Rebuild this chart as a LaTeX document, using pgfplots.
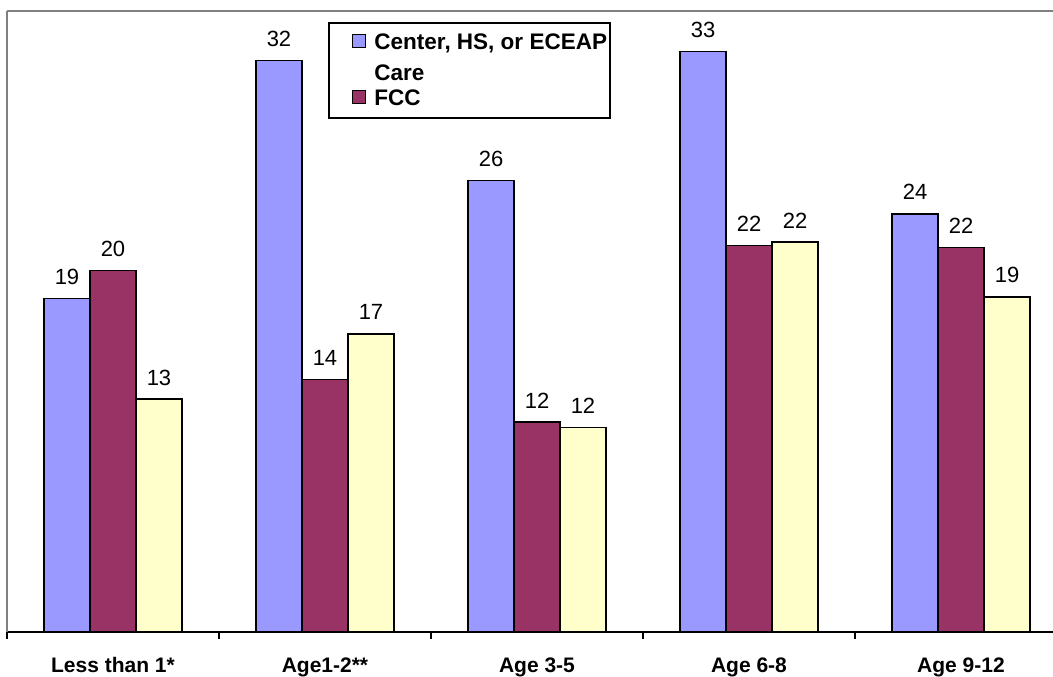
\documentclass[border=0pt]{standalone}
\usepackage{fontspec}
\setmainfont{Liberation Sans}
\usepackage{pgfplots}
\pgfplotsset{compat=1.18}

\definecolor{barblue}{HTML}{9999FF}
\definecolor{barplum}{HTML}{993366}
\definecolor{baryellow}{HTML}{FFFFCC}
\definecolor{framegray}{HTML}{808080}

\pgfplotsset{sqlegend/.style={legend image code/.code={
  \path (0pt,0pt);
  \draw[##1, line width=1.2pt] (20pt,2pt) rectangle (33pt,15pt);}}}

\begin{document}
\begin{tikzpicture}
\begin{axis}[
  name=ax,
  width=1046pt, height=621pt, scale only axis,
  xmin=-0.5, xmax=4.434, ymin=0, ymax=35.2,
  axis x line*=bottom, axis y line*=left,
  x axis line style={black, line width=1.5pt, -},
  y axis line style={framegray, line width=2pt, -},
  ytick=\empty,
  xtick={0,1,2,3,4},
  xticklabels={Less than 1*, Age1-2**, Age 3-5, Age 6-8, Age 9-12},
  major tick length=0pt,
  minor xtick={-0.5,0.5,1.5,2.5,3.5},
  minor tick length=7pt, tick align=outside,
  minor tick style={black, line width=1.5pt},
  xticklabel style={font=\fontsize{21}{25}\selectfont\bfseries, anchor=base, inner sep=0pt, yshift=-41pt},
  ybar=0pt, bar width=46pt,
  clip=false,
  nodes near coords, point meta=explicit symbolic,
  nodes near coords style={font=\fontsize{22}{26}\selectfont, anchor=base, inner sep=0pt, yshift=14pt},
  legend style={at={(0.307,0.982)}, anchor=north west, draw=black, line width=2pt,
    fill=white, inner xsep=3pt, inner ysep=11pt,
    font=\fontsize{22.5}{27}\selectfont\bfseries,
    cells={anchor=base west}, nodes={inner sep=0pt},
    column sep=8pt, row sep=8pt},
]
% Center, HS, or ECEAP Care
\addplot[fill=barblue, draw=black, line width=1.5pt, sqlegend] coordinates {
  (0,18.9) [19] (1,32.4) [32] (2,25.6) [26] (3,32.9) [33] (4,23.7) [24]
};
\addlegendentry{Center, HS, or ECEAP}
\addlegendimage{empty legend}
\addlegendentry{\rule{0pt}{21pt}Care}
% FCC
\addplot[fill=barplum, draw=black, line width=1.5pt, sqlegend] coordinates {
  (0,20.5) [20] (1,14.3) [14] (2,11.9) [12] (3,21.9) [22] (4,21.8) [22]
};
\addlegendentry{FCC}
% third series (not in the visible legend)
\addplot[fill=baryellow, draw=black, line width=1.5pt] coordinates {
  (0,13.2) [13] (1,16.9) [17] (2,11.6) [12] (3,22.1) [22] (4,19.0) [19]
};
\draw[framegray, line width=2pt] (rel axis cs:0,1) -- (rel axis cs:1,1);
\end{axis}
\pgfresetboundingbox
\path ([xshift=-7pt,yshift=-45pt]ax.south west) rectangle ([yshift=11pt]ax.north east);
\end{tikzpicture}
\end{document}
